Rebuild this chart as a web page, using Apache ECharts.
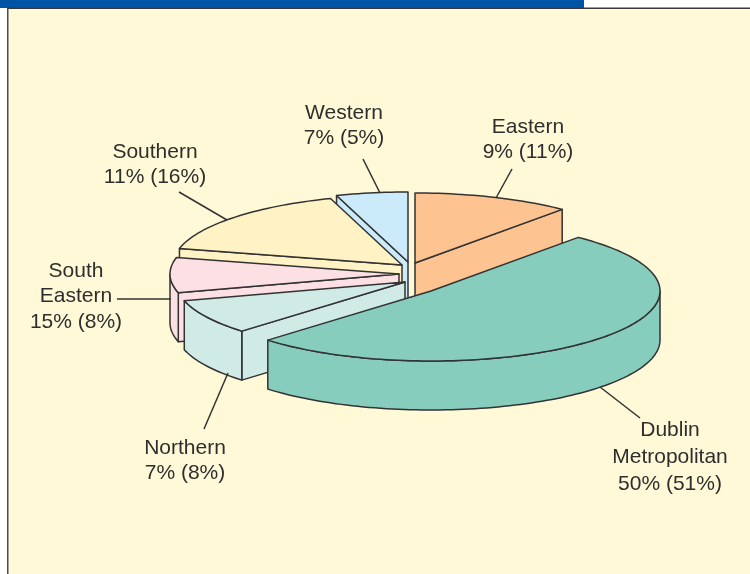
<!DOCTYPE html>
<html><head><meta charset="utf-8">
<style>html,body{margin:0;padding:0;background:#fff}#c{width:750px;height:574px}</style>
<script src="https://cdn.jsdelivr.net/npm/echarts@6/dist/echarts.min.js"></script>
</head><body><div id="c"></div>
<script>
// Data: regions with the pie share (value in brackets on the label) and the first figure
const regions = ['Eastern','Dublin Metropolitan','Northern','South Eastern','Southern','Western'];
const sliceShares = [11,51,8,8,16,5];
const firstShares = [9,50,7,15,11,7];
const sliceColors = ['#FDC391','#87CDBD','#D0EAE6','#FDE0E3','#FFF2C4','#CBEBFA'];
const labelLines = [['Eastern','9% (11%)'],['Dublin','Metropolitan','50% (51%)'],['Northern','7% (8%)'],['South','Eastern','15% (8%)'],['Southern','11% (16%)'],['Western','7% (5%)']];

// Layout
const cx=406, cy=270, rx=229, ry=70, depth=49;
const explode=[[9,-7],[25,21],[-1,12],[-7,4],[-4,-5],[2,-8]];
const paintOrder=[0,5,4,3,2,1];
const stroke='#333333';
const leaders=[[[496,198],[512,169]],[[600,387],[640,418]],[[228,373],[204,429]],[[171,299],[117,299]],[[227,220],[179,192]],[[380,193],[363,159]]];
const labelPos=[[528,127],[670,430],[185,448],[76,271],[155,152],[344,113]];
const labelGap=[25,27,25,25.5,25,25];

const total=sliceShares.reduce((a,b)=>a+b,0);
const ranges=[];let acc=-90;
sliceShares.forEach(v=>{const e=acc+v/total*360;ranges.push([acc,e]);acc=e;});
const rad=d=>d*Math.PI/180;
function arc(ax,ay,s,e,dy){const n=Math.max(2,Math.ceil(Math.abs(e-s)/1.5));const p=[];
  for(let i=0;i<=n;i++){const t=rad(s+(e-s)*i/n);p.push([ax+rx*Math.cos(t),ay+ry*Math.sin(t)+dy]);}return p;}
function renderSlice(params,api){
  const idx=api.value(0);const [s,e]=ranges[idx];
  const ax=cx+explode[idx][0], ay=cy+explode[idx][1];
  const style={fill:sliceColors[idx],stroke:stroke,lineWidth:1.5,lineJoin:'round'};
  const children=[];
  const poly=pts=>children.push({type:'polygon',shape:{points:pts},style:style});
  // radial cut faces that look towards the viewer
  const radial=a=>{const t=rad(a);const o=[ax+rx*Math.cos(t),ay+ry*Math.sin(t)];
    poly([[ax,ay],o,[o[0],o[1]+depth],[ax,ay+depth]]);};
  if(Math.cos(rad(s))<-1e-6) radial(s);
  if(Math.cos(rad(e))>1e-6) radial(e);
  // outer wall: the part of the rim on the front half
  const lo=Math.max(s,0),hi=Math.min(e,180);
  if(hi>lo){poly(arc(ax,ay,lo,hi,0).concat(arc(ax,ay,lo,hi,depth).reverse()));}
  // top
  poly([[ax,ay]].concat(arc(ax,ay,s,e,0)));
  return {type:'group',children};
}
const graphics=[
 {type:'rect',shape:{x:0,y:0,width:584,height:8},style:{fill:'#0054A6'},silent:true},
 {type:'rect',shape:{x:7,y:8,width:743,height:566},style:{fill:'#FFF9D8'},silent:true},
 {type:'rect',shape:{x:7,y:7.5,width:743,height:1.5},style:{fill:'#3A3A3A'},silent:true},
 {type:'rect',shape:{x:7,y:8,width:1.5,height:566},style:{fill:'#4A4A4A'},silent:true}
];
const leaderEls=leaders.map(l=>({type:'polyline',z:20,shape:{points:l},style:{stroke:stroke,lineWidth:1.5,fill:'none'},silent:true}));
const textEls=[];
labelLines.forEach((lines,i)=>lines.forEach((t,j)=>textEls.push({type:'text',z:20,x:labelPos[i][0],y:labelPos[i][1]+j*labelGap[i],
  style:{text:t,fill:'#2E2E2E',font:'21px "Liberation Sans", Arial, sans-serif',textAlign:'center',textVerticalAlign:'middle'},silent:true})));

const chart=echarts.init(document.getElementById('c'),null,{renderer:'canvas'});
chart.setOption({
  animation:false,backgroundColor:'#ffffff',
  graphic:{elements:graphics.concat(leaderEls,textEls)},
  series:[{type:'custom',coordinateSystem:'none',z:10,silent:true,renderItem:renderSlice,
    data:paintOrder.map(i=>({name:regions[i],value:[i,sliceShares[i],firstShares[i]]}))}]
});
</script></body></html>
